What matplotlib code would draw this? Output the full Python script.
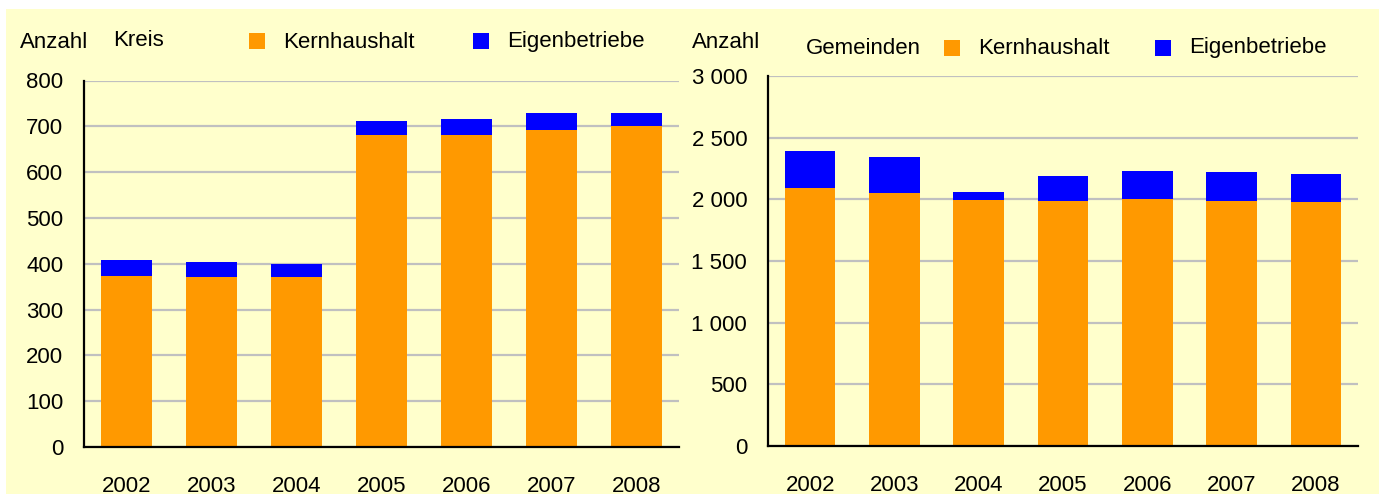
import matplotlib
matplotlib.use("Agg")
import matplotlib.pyplot as plt
from matplotlib.patches import Rectangle

years = ["2002", "2003", "2004", "2005", "2006", "2007", "2008"]
kreis_kern = [374, 370, 370, 682, 682, 693, 700]
kreis_eigen = [34, 34, 30, 30, 35, 37, 28]
gem_kern = [2091, 2051, 1995, 1986, 2002, 1986, 1978]
gem_eigen = [297, 289, 64, 201, 225, 233, 225]
kreis_ticks = [0, 100, 200, 300, 400, 500, 600, 700, 800]
gem_ticks = [0, 500, 1000, 1500, 2000, 2500, 3000]

ORANGE = "#FF9900"
BLUE = "#0000FF"
BG = "#FFFFCC"
W, H = 1379, 495
plt.rcParams['font.family'] = ['Liberation Sans', 'DejaVu Sans']
FS = 16

fig = plt.figure(figsize=(W / 100, H / 100), dpi=100)
fig.patch.set_facecolor("white")
fig.patches.append(Rectangle((6 / W, 1 - 494 / H), 1 - 6 / W, (494 - 9) / H,
                             transform=fig.transFigure, facecolor=BG,
                             edgecolor="none", zorder=-5))


def make_ax(x0, x1, y0, y1):
    return fig.add_axes([x0 / W, 1 - y1 / H, (x1 - x0) / W, (y1 - y0) / H])


def style(ax, ticks, labels, ymax):
    ax.set_facecolor(BG)
    ax.set_xlim(-0.5, 6.5)
    ax.set_ylim(0, ymax)
    ax.set_yticks(ticks)
    ax.set_yticklabels(labels, fontsize=FS)
    ax.set_xticks(range(len(years)))
    ax.set_xticklabels(years, fontsize=FS)
    ax.tick_params(axis='y', length=0, pad=15)
    ax.tick_params(axis='x', length=0, pad=21)
    for s in ("top", "right"):
        ax.spines[s].set_visible(False)
    for s in ("left", "bottom"):
        ax.spines[s].set_linewidth(1.6)
        ax.spines[s].set_color("black")
        ax.spines[s].set_zorder(5)
    ax.yaxis.grid(True, color="#C0C0C0", linewidth=1.6)
    ax.set_axisbelow(True)


ax1 = make_ax(84, 679, 80.5, 447)
x = range(len(years))
ax1.bar(x, kreis_kern, width=0.6, color=ORANGE, zorder=3)
ax1.bar(x, kreis_eigen, width=0.6, bottom=kreis_kern, color=BLUE, zorder=3)
style(ax1, kreis_ticks, [str(t) for t in kreis_ticks], 800)

ax2 = make_ax(768, 1358, 76, 446)
ax2.bar(x, gem_kern, width=0.6, color=ORANGE, zorder=3)
ax2.bar(x, gem_eigen, width=0.6, bottom=gem_kern, color=BLUE, zorder=3)
style(ax2, gem_ticks, [f"{t:,}".replace(",", " ") for t in gem_ticks], 3000)


def ftext(px, py, s):
    fig.text(px / W, 1 - py / H, s, fontsize=FS, ha="left", va="center")


def fbox(x0, y0, x1, y1, c):
    fig.patches.append(Rectangle((x0 / W, 1 - y1 / H), (x1 - x0) / W, (y1 - y0) / H,
                                 transform=fig.transFigure, facecolor=c,
                                 edgecolor="none", zorder=2))


ftext(20, 43, "Anzahl")
ftext(113, 40, "Kreis")
fbox(249, 33, 265, 49, ORANGE)
ftext(283, 42, "Kernhaushalt")
fbox(473, 33, 489, 49, BLUE)
ftext(507, 42, "Eigenbetriebe")

ftext(692, 43, "Anzahl")
ftext(806, 48, "Gemeinden")
fbox(944, 40, 960, 56, ORANGE)
ftext(978, 48, "Kernhaushalt")
fbox(1155, 40, 1171, 56, BLUE)
ftext(1189, 48, "Eigenbetriebe")

fig.savefig("out.png", dpi=100, facecolor=fig.get_facecolor())
